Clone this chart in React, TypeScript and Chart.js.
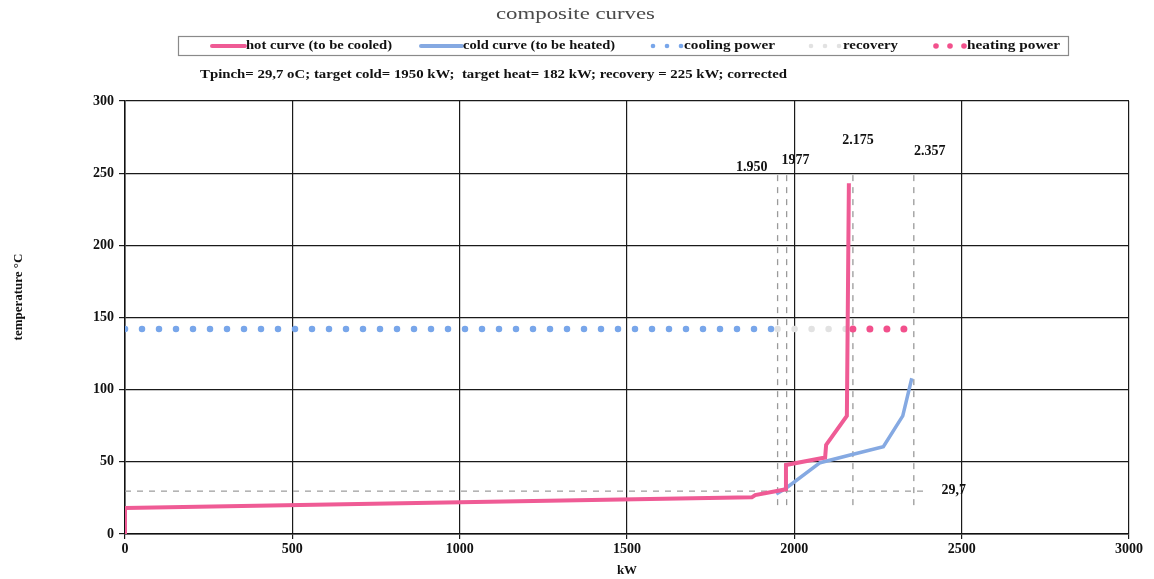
import React, { useEffect, useRef } from "react";
import { Chart, registerables } from "chart.js";

Chart.register(...registerables);

// ---- data ----
const hotX = [0, 0, 1873, 1883, 1975, 1975, 2092, 2095, 2157, 2163];
const hotY = [0, 18, 25.4, 27, 31, 47.8, 53, 61.7, 81.8, 243];

const coldX = [1946, 1975, 2077, 2167, 2266, 2324, 2351];
const coldY = [27.7, 31.7, 49.4, 54.7, 60.5, 81.8, 107.9];

const coolingX = [0, 1950];
const coolingY = [142, 142];
const recoveryX = [1950, 2175];
const recoveryY = [142, 142];
const heatingX = [2175, 2357];
const heatingY = [142, 142];

const guideXs = [1950, 1977, 2175, 2357];
const guideYRange = [20, 250];
const pinchT = 29.7;
const pinchXRange = [0, 2400];

const markLabels = ["1.950", "1977", "2.175", "2.357", "29,7"];
const markLabelX = [1920, 1962, 2190, 2405, 2440];
const markLabelY = [254, 259, 273, 265, 30];
const markLabelAlign = ["right", "left", "center", "center", "left"];

const seriesNames = [
  "hot curve (to be cooled)",
  "cold curve (to be heated)",
  "cooling power",
  "recovery",
  "heating power",
];

const titleText = "composite curves";
const subtitleText =
  "Tpinch= 29,7 oC; target cold= 1950 kW;  target heat= 182 kW; recovery = 225 kW; corrected";
const xTitle = "kW";
const yTitle = "temperature °C";

const xMin = 0, xMax = 3000, xStep = 500;
const yMin = 0, yMax = 300, yStep = 50;

const HOT = "#ef5b95";
const COLD = "#85a9e2";
const COOL_DOT = "#78a6ea";
const REC_DOT = "#e2e2e2";
const HEAT_DOT = "#f2508c";
const GUIDE = "#9a9a9a";

const pts = (xs: number[], ys: number[]) => xs.map((x, i) => ({ x, y: ys[i] }));

const SERIF = "'Liberation Serif', 'Times New Roman', serif";

function fitText(ctx: CanvasRenderingContext2D, text: string, x: number, y: number, w: number, font: string, color: string) {
  ctx.save();
  ctx.font = font;
  ctx.fillStyle = color;
  ctx.textBaseline = "middle";
  ctx.textAlign = "left";
  const m = ctx.measureText(text).width;
  ctx.translate(x, y);
  ctx.scale(w / m, 1);
  ctx.fillText(text, 0, 0);
  ctx.restore();
}

const decorPlugin = {
  id: "decor",
  afterDraw(chart: any) {
    const ctx: CanvasRenderingContext2D = chart.ctx;
    const xs = chart.scales.x;
    const ys = chart.scales.y;

    // title
    fitText(ctx, titleText, 496, 15, 159, `17px ${SERIF}`, "#4a4a4a");

    // legend box
    ctx.save();
    ctx.strokeStyle = "#8a8a8a";
    ctx.lineWidth = 1.2;
    ctx.strokeRect(178.5, 36.5, 890, 19);
    ctx.restore();

    const ly = 46;
    const lf = `bold 12.5px ${SERIF}`;
    ctx.save();
    ctx.lineCap = "round";
    ctx.lineWidth = 4;
    ctx.strokeStyle = HOT;
    ctx.beginPath(); ctx.moveTo(212, ly); ctx.lineTo(245, ly); ctx.stroke();
    ctx.strokeStyle = COLD;
    ctx.beginPath(); ctx.moveTo(421, ly); ctx.lineTo(462, ly); ctx.stroke();
    const dots = (xs0: number[], c: string, r: number) => {
      ctx.fillStyle = c;
      xs0.forEach((x) => { ctx.beginPath(); ctx.arc(x, ly, r, 0, Math.PI * 2); ctx.fill(); });
    };
    dots([653, 667, 681], COOL_DOT, 2.3);
    dots([811, 825, 839], REC_DOT, 2.3);
    dots([936, 950, 964], HEAT_DOT, 2.8);
    ctx.restore();
    fitText(ctx, seriesNames[0], 246, ly, 146, lf, "#111");
    fitText(ctx, seriesNames[1], 463, ly, 152, lf, "#111");
    fitText(ctx, seriesNames[2], 684, ly, 91, lf, "#111");
    fitText(ctx, seriesNames[3], 843, ly, 55, lf, "#111");
    fitText(ctx, seriesNames[4], 967, ly, 93, lf, "#111");

    // subtitle
    fitText(ctx, subtitleText, 200, 75, 587, `bold 12.5px ${SERIF}`, "#111");

    // mark labels
    ctx.save();
    ctx.font = `bold 14px ${SERIF}`;
    ctx.fillStyle = "#111";
    ctx.textBaseline = "middle";
    markLabels.forEach((t, i) => {
      ctx.textAlign = markLabelAlign[i] as CanvasTextAlign;
      ctx.fillText(t, xs.getPixelForValue(markLabelX[i]), ys.getPixelForValue(markLabelY[i]));
    });
    ctx.restore();

    // axis titles
    ctx.save();
    ctx.font = `bold 13px ${SERIF}`;
    ctx.fillStyle = "#111";
    ctx.textAlign = "center";
    ctx.textBaseline = "middle";
    ctx.fillText(xTitle, (chart.chartArea.left + chart.chartArea.right) / 2, 571);
    ctx.translate(19, 297);
    ctx.rotate(-Math.PI / 2);
    ctx.fillText(yTitle, 0, 0);
    ctx.restore();
  },
};

export default function App() {
  const ref = useRef<HTMLCanvasElement | null>(null);
  useEffect(() => {
    document.body.style.margin = "0";
    const canvas = ref.current;
    if (!canvas) return;

    const guideSets = guideXs.map((gx) => ({
      label: "guide",
      data: pts([gx, gx], guideYRange),
      borderColor: GUIDE,
      borderWidth: 1.3,
      borderDash: [6, 6],
      pointRadius: 0,
      showLine: true,
      order: 5,
    }));

    const chart = new Chart(canvas, {
      type: "scatter",
      data: {
        datasets: [
          {
            label: seriesNames[0],
            data: pts(hotX, hotY),
            borderColor: HOT,
            borderWidth: 4,
            pointRadius: 0,
            showLine: true,
            order: 0,
          },
          {
            label: seriesNames[1],
            data: pts(coldX, coldY),
            borderColor: COLD,
            borderWidth: 3.5,
            pointRadius: 0,
            showLine: true,
            order: 1,
          },
          {
            label: seriesNames[2],
            data: pts(coolingX, coolingY),
            borderColor: COOL_DOT,
            borderWidth: 6.5,
            borderDash: [0, 17],
            borderCapStyle: "round",
            pointRadius: 0,
            showLine: true,
            order: 2,
          },
          {
            label: seriesNames[3],
            data: pts(recoveryX, recoveryY),
            borderColor: REC_DOT,
            borderWidth: 6.5,
            borderDash: [0, 17],
            borderCapStyle: "round",
            pointRadius: 0,
            showLine: true,
            order: 2,
          },
          {
            label: seriesNames[4],
            data: pts(heatingX, heatingY),
            borderColor: HEAT_DOT,
            borderWidth: 7,
            borderDash: [0, 17],
            borderCapStyle: "round",
            pointRadius: 0,
            showLine: true,
            order: 1,
          },
          ...guideSets,
          {
            label: "pinch",
            data: pts(pinchXRange, [pinchT, pinchT]),
            borderColor: GUIDE,
            borderWidth: 1.2,
            borderDash: [6, 6],
            pointRadius: 0,
            showLine: true,
            order: 5,
          },
        ] as any,
      },
      options: {
        responsive: false,
        animation: false,
        events: [],
        layout: { padding: { left: 0, right: 25, top: 101, bottom: 0 } },
        plugins: {
          legend: { display: false },
          title: { display: false },
          tooltip: { enabled: false },
        },
        scales: {
          x: {
            type: "linear",
            min: xMin,
            max: xMax,
            afterFit: (s: any) => { s.height = 45; },
            ticks: {
              stepSize: xStep,
              color: "#111",
              font: { family: SERIF, weight: "bold", size: 14 },
              padding: 2,
              maxRotation: 0,
              callback: (v: any) => String(v),
            },
            grid: { color: "#1a1a1a", lineWidth: 1.2, tickLength: 5 },
            border: { color: "#111", width: 1.5 },
          },
          y: {
            type: "linear",
            min: yMin,
            max: yMax,
            afterFit: (s: any) => { s.width = 125; },
            ticks: {
              stepSize: yStep,
              color: "#111",
              font: { family: SERIF, weight: "bold", size: 14 },
              padding: 5,
              callback: (v: any) => String(v),
            },
            grid: { color: "#1a1a1a", lineWidth: 1.2, tickLength: 6 },
            border: { color: "#111", width: 1.5 },
          },
        },
      } as any,
      plugins: [decorPlugin],
    });
    return () => chart.destroy();
  }, []);

  return (
    <div style={{ width: 1154, height: 579, background: "#fff" }}>
      <canvas ref={ref} width={1154} height={579} style={{ display: "block" }} />
    </div>
  );
}
